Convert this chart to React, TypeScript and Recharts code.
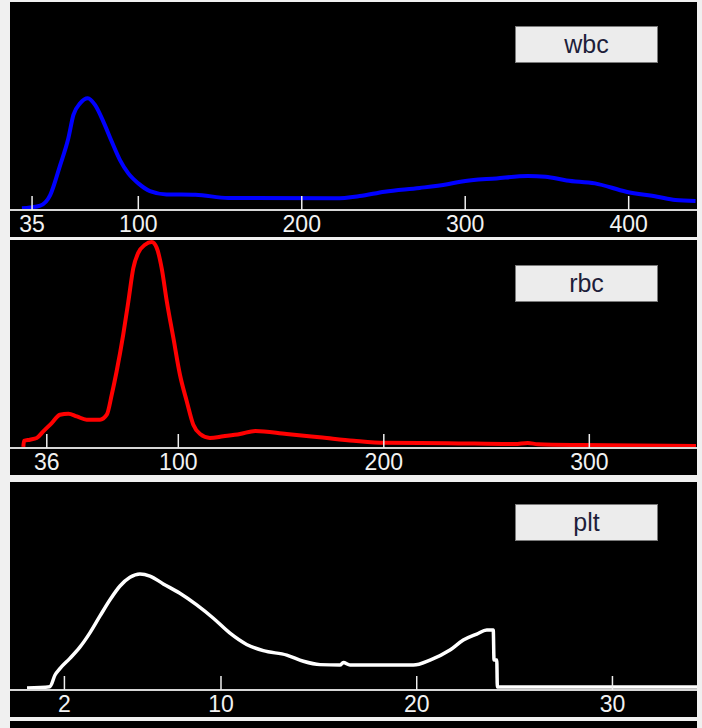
import React from "react";
import { LineChart, Line, XAxis, YAxis } from "recharts";

// wbc histogram (x: fL-like channel, y: relative count 0-100)
const wbcX = [28.8, 33.8, 40.0, 46.1, 52.2, 57.2, 60.3, 64.4, 69.1, 73.5, 78.6, 83.8, 88.8, 93.9, 100, 107.1, 117.3, 135, 155, 220.8, 235.4, 250.7, 272.1, 289.1, 297.1, 319.1, 338.3, 349.1, 362, 379.4, 398.5, 417.5, 428.5, 440.9];
const wbcY = [0.8, 1.2, 2.1, 7.2, 21.6, 34.5, 45.7, 51.3, 53.7, 50.5, 42.5, 32.8, 24.0, 17.6, 12.8, 9.1, 7.5, 7.3, 5.8, 5.6, 6.7, 8.8, 10.6, 12.4, 13.6, 15.2, 16.3, 16.0, 14.2, 12.8, 8.8, 6.4, 4.8, 4.3];

const rbcX = [24.6, 24.9, 27.8, 31.1, 34.3, 38.4, 42.4, 46.5, 50.6, 55.4, 61.9, 65.2, 67.6, 70.0, 73.2, 75.7, 78.1, 80.5, 83.8, 87.1, 89.5, 91.9, 94.4, 97.6, 100.8, 104.1, 107.3, 110.6, 115.4, 121.9, 130.0, 137.5, 152.7, 170.1, 185.4, 200.6, 231.1, 263.8, 270, 275, 296.4, 351.9];
const rbcY = [0.5, 3.4, 4.0, 4.8, 8.0, 12.0, 16.0, 16.5, 15.2, 13.6, 13.6, 16.0, 25.6, 36.9, 54.5, 70.5, 86.5, 93.8, 97.7, 99.0, 96.2, 86.5, 70.5, 52.9, 35.2, 22.5, 11.2, 6.7, 4.8, 5.6, 6.7, 8.2, 6.7, 5.0, 3.5, 2.5, 2.3, 1.9, 2.4, 1.8, 1.4, 1.0];

const pltX = [0.09, 1.26, 1.52, 1.78, 2.28, 2.79, 3.31, 3.82, 4.33, 4.84, 5.35, 5.86, 6.37, 7.05, 7.9, 8.76, 9.61, 10.46, 11.31, 12.16, 13.36, 14.21, 15.06, 16.08, 16.25, 16.59, 19.83, 20.68, 21.7, 22.38, 23.07, 23.58, 23.91, 23.95, 24.09, 24.12, 34.32];
const pltY = [1.0, 1.6, 7.2, 10.4, 15.2, 20.6, 27.6, 35.6, 43.4, 50.0, 54.2, 55.8, 54.8, 51.0, 46.5, 40.9, 34.5, 27.3, 21.9, 18.9, 16.8, 13.8, 12.2, 12.0, 13.2, 12.0, 12.0, 14.4, 19.2, 24.0, 26.9, 28.8, 28.8, 14.4, 14.4, 1.4, 1.4];

const wbcTicks = [35, 100, 200, 300, 400];
const rbcTicks = [36, 100, 200, 300];
const pltTicks = [2, 10, 20, 30];

const zip = (xs: number[], ys: number[]) => xs.map((x, i) => ({ x, y: ys[i] }));

const AxisTick = (props: any) => {
  const { x, y, payload } = props;
  return (
    <g>
      <line x1={x} x2={x} y1={y - 14} y2={y} stroke="#eeeeee" strokeWidth={1.5} />
      <text
        x={x}
        y={y + 22}
        textAnchor="middle"
        fill="#f2f2f2"
        fontSize={23}
        fontFamily="Liberation Sans, Arial, sans-serif"
      >
        {payload.value}
      </text>
    </g>
  );
};

type PanelProps = {
  top: number;
  label: string;
  labelTop: number;
  color: string;
  width: number;
  data: { x: number; y: number }[];
  domain: [number, number];
  ticks: number[];
};

function Panel({ top, label, labelTop, color, width, data, domain, ticks }: PanelProps) {
  return (
    <div style={{ position: "absolute", left: 10, top, width: 687, height: 235, background: "#000" }}>
      <LineChart width={687} height={235} data={data} margin={{ top: 0, right: 0, bottom: 0, left: 0 }}>
        <XAxis
          type="number"
          dataKey="x"
          domain={domain}
          ticks={ticks}
          interval={0}
          allowDataOverflow
          height={27}
          tickLine={false}
          tickSize={0}
          tickMargin={0}
          axisLine={{ stroke: "#d6d6d6", strokeWidth: 2 }}
          tick={AxisTick}
        />
        <YAxis hide domain={[0, 100]} allowDataOverflow />
        <Line
          type="monotone"
          dataKey="y"
          stroke={color}
          strokeWidth={width}
          dot={false}
          isAnimationActive={false}
        />
      </LineChart>
      <div
        style={{
          position: "absolute",
          left: 505,
          top: labelTop,
          width: 141,
          height: 35,
          background: "#ececec",
          border: "1px solid #7a7a7a",
          display: "flex",
          alignItems: "center",
          justifyContent: "center",
          fontFamily: "Liberation Sans, Arial, sans-serif",
          fontSize: 25,
          color: "#1e1e3a",
        }}
      >
        {label}
      </div>
    </div>
  );
}

export default function App() {
  return (
    <div style={{ position: "absolute", left: 0, top: 0, width: 702, height: 728, background: "#f0f0f0", overflow: "hidden" }}>
      <Panel top={2} label="wbc" labelTop={24} color="#0000ff" width={4} data={zip(wbcX, wbcY)} domain={[21.5, 441.8]} ticks={wbcTicks} />
      <Panel top={240} label="rbc" labelTop={25} color="#ff0000" width={4} data={zip(rbcX, rbcY)} domain={[18.1, 352.4]} ticks={rbcTicks} />
      <Panel top={482} label="plt" labelTop={22} color="#ffffff" width={3.5} data={zip(pltX, pltY)} domain={[-0.78, 34.32]} ticks={pltTicks} />
      <div style={{ position: "absolute", left: 10, top: 721, width: 687, height: 7, background: "#000" }} />
    </div>
  );
}
